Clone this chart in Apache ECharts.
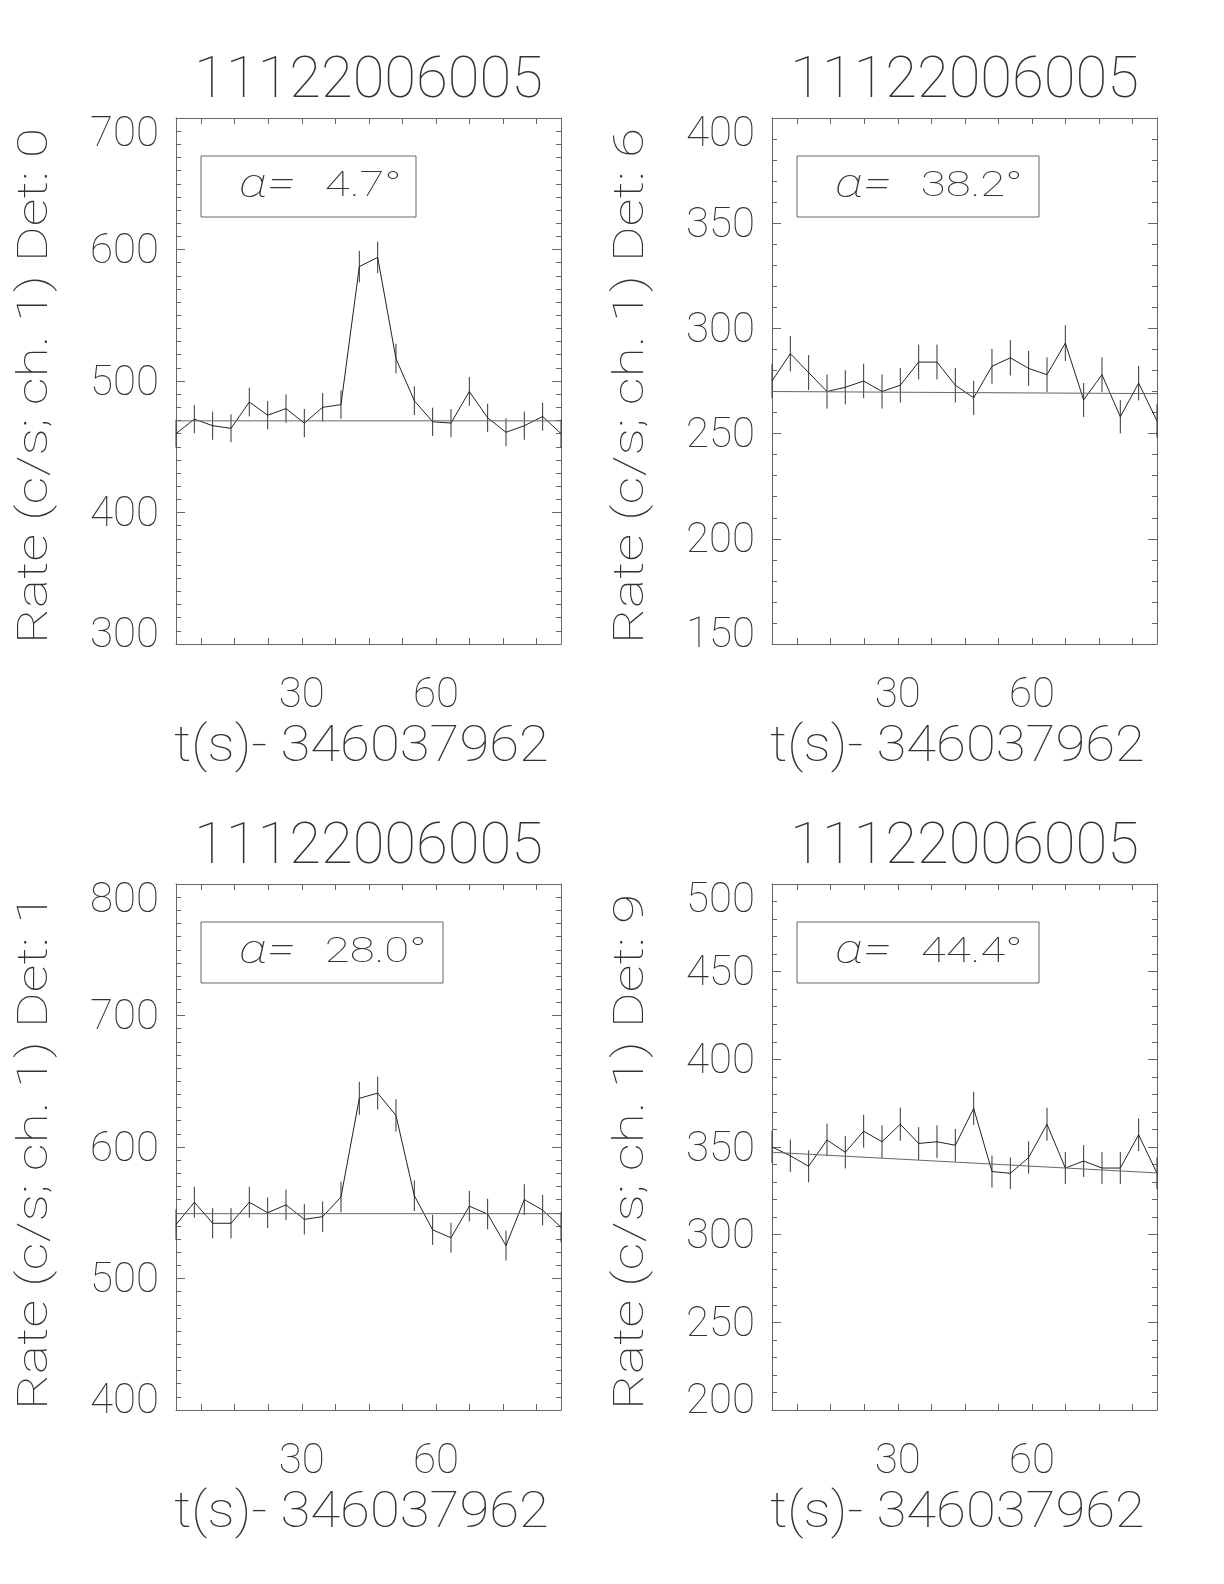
<!DOCTYPE html>
<html>
<head>
<meta charset="utf-8">
<script src="https://cdn.jsdelivr.net/npm/echarts@6/dist/echarts.min.js"></script>
<style>
  html, body { margin: 0; background: #fff; }
  #chart { width: 1224px; height: 1584px; }
</style>
</head>
<body>
<div id="chart"></div>
<script>
// observation + time reference
const obsId = '11122006005'
const timeLabel = 't(s)- 346037962'

// bin centres (s since reference)
const times = [1.90, 6.00, 10.09, 14.19, 18.28, 22.38, 26.48, 30.57, 34.67, 38.76, 42.86,
  46.96, 51.05, 55.15, 59.24, 63.34, 67.44, 71.53, 75.63, 79.72, 83.82, 87.92]

// x ticks (minor every 7.5 s) and labelled ticks
const xTicks = [7.5, 15, 22.5, 30, 37.5, 45, 52.5, 60, 67.5, 75, 82.5]
const xTickLabels = [30, 60]

// Det 0
const det0Rate = [460, 471, 466, 464, 484, 474, 479, 468, 480, 482, 587, 594, 517, 485, 469, 468, 492, 472, 461, 466, 473, 460]
const det0Err = [10.6, 10.7, 10.7, 10.6, 10.9, 10.8, 10.8, 10.7, 10.8, 10.8, 12.0, 12.0, 11.2, 10.9, 10.7, 10.7, 11.0, 10.7, 10.6, 10.7, 10.7, 10.6]
const det0Fit = [469.7, 469.7]

// Det 6
const det6Rate = [275, 288, 279, 270, 272, 275, 270, 273, 284, 284, 273, 267, 282, 286, 281, 278, 293, 266, 278, 258, 274, 256]
const det6Err = [8.2, 8.4, 8.3, 8.1, 8.1, 8.2, 8.1, 8.2, 8.3, 8.3, 8.2, 8.1, 8.3, 8.4, 8.3, 8.2, 8.5, 8.1, 8.2, 7.9, 8.2, 7.9]
const det6Fit = [270.0, 269.0]

// Det 1
const det1Rate = [541, 558, 542, 542, 558, 550, 556, 545, 547, 562, 637, 641, 624, 563, 537, 531, 555, 549, 525, 560, 552, 539]
const det1Err = [11.5, 11.7, 11.5, 11.5, 11.7, 11.6, 11.6, 11.5, 11.6, 11.7, 12.5, 12.5, 12.3, 11.7, 11.4, 11.4, 11.6, 11.6, 11.3, 11.7, 11.6, 11.5]
const det1Fit = [549.3, 549.3]

// Det 9
const det9Rate = [350, 345, 339, 354, 347, 359, 353, 363, 352, 353, 351, 372, 336, 335, 344, 363, 338, 342, 338, 338, 357, 335]
const det9Err = [9.2, 9.2, 9.1, 9.3, 9.2, 9.4, 9.3, 9.4, 9.3, 9.3, 9.3, 9.5, 9.1, 9.0, 9.2, 9.4, 9.1, 9.1, 9.1, 9.1, 9.3, 9.0]
const det9Fit = [347.0, 335.2]

const panels = [
  { det: 0, alpha: '4.7°', rate: det0Rate, err: det0Err, fit: det0Fit, yMin: 300, yMax: 700, yStep: 100, ySplit: 10, left: 176, top: 118, boxW: 215 },
  { det: 6, alpha: '38.2°', rate: det6Rate, err: det6Err, fit: det6Fit, yMin: 150, yMax: 400, yStep: 50, ySplit: 5, left: 772, top: 118, boxW: 242 },
  { det: 1, alpha: '28.0°', rate: det1Rate, err: det1Err, fit: det1Fit, yMin: 400, yMax: 800, yStep: 100, ySplit: 10, left: 176, top: 884, boxW: 242 },
  { det: 9, alpha: '44.4°', rate: det9Rate, err: det9Err, fit: det9Fit, yMin: 200, yMax: 500, yStep: 50, ySplit: 5, left: 772, top: 884, boxW: 242 }
]

const W = 385
const H = 526
const FONT = 'Roboto'
const FW = 100
const TXT = '#333'
const FRAME = '#666'

const chart = echarts.init(document.getElementById('chart'), null, { renderer: 'canvas' })

const grid = []
const xAxis = []
const yAxis = []
const series = []
const graphic = []

const tickFont = { fontFamily: FONT, fontWeight: FW, fontSize: 42, color: TXT }

panels.forEach((p, i) => {
  grid.push({ left: p.left, top: p.top, width: W, height: H, containLabel: false })

  const xBase = {
    gridIndex: i,
    type: 'value',
    min: times[0],
    max: times[times.length - 1],
    splitLine: { show: false },
    axisLine: { lineStyle: { color: FRAME, width: 1 } },
    axisTick: { inside: true, length: 6, customValues: xTicks, lineStyle: { color: FRAME } }
  }
  xAxis.push(Object.assign({}, xBase, {
    position: 'bottom',
    axisLabel: Object.assign({ customValues: xTickLabels, margin: 31 }, tickFont)
  }))
  xAxis.push(Object.assign({}, xBase, { position: 'top', axisLabel: { show: false } }))

  const yBase = {
    gridIndex: i,
    type: 'value',
    min: p.yMin,
    max: p.yMax,
    interval: p.yStep,
    splitLine: { show: false },
    axisLine: { show: true, lineStyle: { color: FRAME, width: 1 } },
    axisTick: { inside: true, length: 9, lineStyle: { color: FRAME } },
    minorTick: { show: true, splitNumber: p.ySplit, length: 5, lineStyle: { color: FRAME } },
    minorSplitLine: { show: false }
  }
  yAxis.push(Object.assign({}, yBase, {
    position: 'left',
    axisLabel: Object.assign({
      margin: 17,
      formatter: v => v === p.yMax ? '{hi|' + v + '}' : v === p.yMin ? '{lo|' + v + '}' : '{m|' + v + '}',
      rich: {
        hi: Object.assign({ padding: [34, 0, 0, 0] }, tickFont),
        m: Object.assign({ padding: [6, 0, 0, 0] }, tickFont),
        lo: Object.assign({ padding: [0, 0, 16, 0] }, tickFont)
      }
    }, tickFont)
  }))
  yAxis.push(Object.assign({}, yBase, { position: 'right', axisLabel: { show: false } }))

  series.push({
    type: 'line',
    xAxisIndex: 2 * i,
    yAxisIndex: 2 * i,
    data: times.map((t, k) => [t, p.rate[k]]),
    symbol: 'none',
    lineStyle: { color: '#222', width: 1 },
    silent: true
  })
  series.push({
    type: 'custom',
    xAxisIndex: 2 * i,
    yAxisIndex: 2 * i,
    data: times.map((t, k) => [t, p.rate[k] - p.err[k], p.rate[k] + p.err[k]]),
    renderItem: (params, api) => {
      const lo = api.coord([api.value(0), api.value(1)])
      const hi = api.coord([api.value(0), api.value(2)])
      return {
        type: 'line',
        shape: { x1: lo[0], y1: lo[1], x2: hi[0], y2: hi[1] },
        style: { stroke: '#333', lineWidth: 1 }
      }
    },
    silent: true
  })
  series.push({
    type: 'line',
    xAxisIndex: 2 * i,
    yAxisIndex: 2 * i,
    data: [[times[0], p.fit[0]], [times[times.length - 1], p.fit[1]]],
    symbol: 'none',
    lineStyle: { color: '#666', width: 1 },
    silent: true
  })

  // title above each panel
  graphic.push({
    type: 'text',
    x: p.left + W / 2, y: p.top - 36,
    style: { text: obsId, fontFamily: FONT, fontWeight: FW, fontSize: 58, fill: TXT, align: 'center', verticalAlign: 'middle' }
  })
  // axis titles, stretched along the baseline like the stroke font
  graphic.push({
    type: 'text',
    x: p.left - 140, y: p.top + H / 2 + 5,
    rotation: Math.PI / 2,
    scaleX: 1.31,
    style: {
      text: 'Rate (c/s; ch. 1) Det: ' + p.det,
      fontFamily: FONT, fontWeight: FW, fontSize: 42, fill: TXT,
      align: 'center', verticalAlign: 'middle'
    }
  })
  graphic.push({
    type: 'text',
    x: p.left + W / 2 - 7, y: p.top + H + 104,
    scaleX: 1.09,
    style: {
      text: timeLabel,
      fontFamily: FONT, fontWeight: FW, fontSize: 50, fill: TXT,
      align: 'center', verticalAlign: 'middle'
    }
  })
  // alpha box
  const boxTop = p.top + 38
  graphic.push({
    type: 'rect',
    shape: { x: p.left + 25, y: boxTop, width: p.boxW, height: 61 },
    style: { fill: 'none', stroke: FRAME, lineWidth: 1 }
  })
  graphic.push({
    type: 'text',
    x: p.left + 63, y: boxTop + 31,
    scaleX: 1.3,
    style: {
      text: '{a|α= }{n|' + p.alpha + '}',
      verticalAlign: 'middle',
      rich: {
        a: { fontFamily: FONT, fontWeight: FW, fontStyle: 'italic', fontSize: 40, fill: TXT, width: 66 },
        n: { fontFamily: FONT, fontWeight: FW, fontSize: 35, fill: TXT }
      }
    }
  })
})

chart.setOption({
  backgroundColor: '#fff',
  animation: false,
  grid,
  xAxis,
  yAxis,
  series,
  graphic
})
</script>
</body>
</html>
